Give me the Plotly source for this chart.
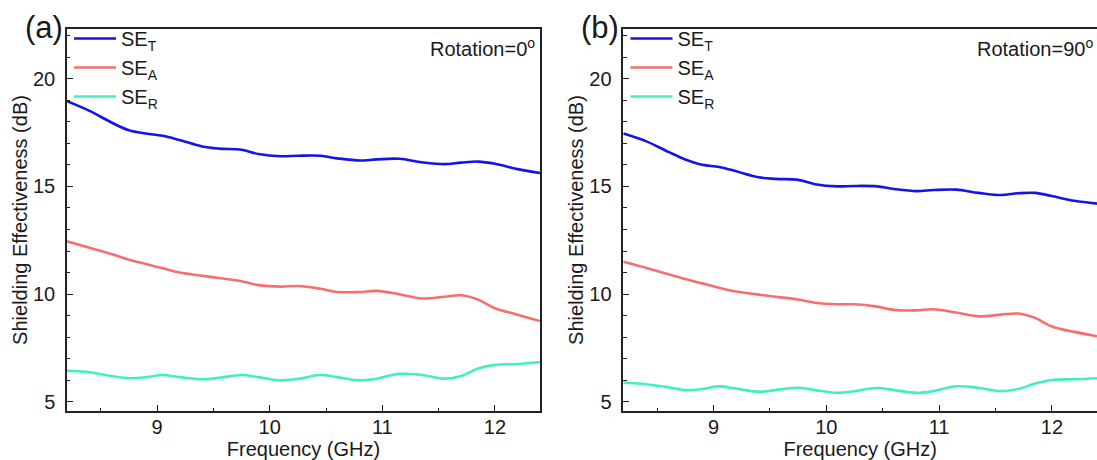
import plotly.graph_objects as go

# ---------------- data ----------------
freq = [8.2, 8.4, 8.6, 8.75, 8.9, 9.05, 9.2, 9.4, 9.55, 9.75, 9.9, 10.1, 10.25,
        10.45, 10.6, 10.8, 10.95, 11.15, 11.35, 11.55, 11.7, 11.85, 12.0, 12.2, 12.4]

# panel (a): Rotation = 0°
se_t_a = [18.95, 18.5, 17.95, 17.6, 17.45, 17.35, 17.15, 16.85, 16.75, 16.7, 16.5, 16.4, 16.42,
          16.42, 16.3, 16.2, 16.25, 16.28, 16.12, 16.03, 16.1, 16.15, 16.05, 15.8, 15.62]
se_a_a = [12.45, 12.15, 11.85, 11.6, 11.4, 11.2, 11.0, 10.85, 10.75, 10.6, 10.42, 10.35, 10.38,
          10.25, 10.1, 10.1, 10.15, 10.0, 9.8, 9.88, 9.95, 9.75, 9.35, 9.05, 8.75]
se_r_a = [6.45, 6.38, 6.2, 6.1, 6.15, 6.25, 6.15, 6.05, 6.12, 6.25, 6.15, 6.0, 6.07,
          6.25, 6.15, 6.0, 6.08, 6.3, 6.25, 6.08, 6.2, 6.55, 6.72, 6.76, 6.85]

# panel (b): Rotation = 90°
se_t_b = [17.45, 17.1, 16.6, 16.25, 16.0, 15.9, 15.7, 15.42, 15.35, 15.3, 15.1, 15.0, 15.02,
          15.0, 14.88, 14.78, 14.83, 14.85, 14.7, 14.6, 14.68, 14.7, 14.55, 14.33, 14.2]
se_a_b = [11.5, 11.22, 10.92, 10.7, 10.5, 10.3, 10.12, 9.98, 9.88, 9.75, 9.6, 9.53, 9.53,
          9.42, 9.27, 9.25, 9.3, 9.15, 8.97, 9.05, 9.1, 8.9, 8.5, 8.25, 8.05]
se_r_b = [5.9, 5.82, 5.68, 5.55, 5.6, 5.72, 5.62, 5.47, 5.55, 5.66, 5.55, 5.42, 5.5,
          5.65, 5.55, 5.42, 5.5, 5.72, 5.65, 5.5, 5.6, 5.85, 6.02, 6.05, 6.1]

series_names = ["SE<sub>T</sub>", "SE<sub>A</sub>", "SE<sub>R</sub>"]
series_colors = ["#1414E6", "#F76E6E", "#40F0C0"]
panel_labels = ["(a)", "(b)"]
rotation_labels = ["Rotation=0<sup>o</sup>", "Rotation=90<sup>o</sup>"]
x_title = "Frequency (GHz)"
y_title = "Shielding Effectiveness (dB)"

# ---------------- layout constants ----------------
FONT = "Liberation Sans, Arial, sans-serif"
TXT = "#1a1a1a"
W, H = 1097, 460
ML, MR, MT, MB = 67, 0, 29, 49
PW = W - ML - MR
PH = H - MT - MB

def px_x(px):
    return (px - ML) / PW

def px_y(py):
    return (H - MB - py) / PH

fig = go.Figure()

panels = [(se_t_a, se_a_a, se_r_a), (se_t_b, se_a_b, se_r_b)]
for p, data in enumerate(panels):
    xa = "x" if p == 0 else "x2"
    ya = "y" if p == 0 else "y2"
    leg = "legend" if p == 0 else "legend2"
    for name, color, vals in zip(series_names, series_colors, data):
        fig.add_trace(go.Scatter(
            x=freq, y=vals, mode="lines", name=name,
            line=dict(color=color, width=2.6, shape="spline", smoothing=1.0),
            xaxis=xa, yaxis=ya, legend=leg, hoverinfo="skip",
        ))

axis_common = dict(
    showline=True, linecolor="#222", linewidth=1.5, mirror=True,
    ticks="inside", ticklen=6, tickwidth=1.3, tickcolor="#222",
    showgrid=False, zeroline=False,
    tickfont=dict(family=FONT, size=20, color=TXT),
    title_font=dict(family=FONT, size=20, color=TXT),
)

xdoms = [[0, px_x(540)], [px_x(623.3), 1.0]]
for p in range(2):
    sfx = "" if p == 0 else "2"
    fig.update_layout(**{
        f"xaxis{sfx}": dict(axis_common, domain=xdoms[p], range=[8.2, 12.4],
                            dtick=1, tick0=9, anchor=f"y{sfx}",
                            minor=dict(dtick=0.5, tick0=8.5, ticks="inside", ticklen=3.5,
                                       tickwidth=1.3, tickcolor="#222"),
                            title=dict(text=x_title, standoff=4),
                            ticklabelstandoff=-3),
        f"yaxis{sfx}": dict(axis_common, domain=[0, 1], range=[4.58, 22.3],
                            dtick=5, tick0=5, anchor=f"x{sfx}",
                            minor=dict(dtick=1, ticks="inside", ticklen=3.5,
                                       tickwidth=1.3, tickcolor="#222"),
                            title=dict(text=y_title, standoff=0),
                            ticklabelstandoff=6),
    })

legend_common = dict(
    bgcolor="rgba(0,0,0,0)", borderwidth=0,
    font=dict(family=FONT, size=20, color=TXT),
    xanchor="left", yanchor="top", traceorder="normal",
    itemwidth=42,
)
fig.update_layout(
    legend=dict(legend_common, x=px_x(69), y=px_y(19)),
    legend2=dict(legend_common, x=px_x(625.5), y=px_y(19)),
)

annotations = []
for p in range(2):
    cx = 44 if p == 0 else 600
    annotations.append(dict(text=panel_labels[p], x=px_x(cx), y=px_y(28), xref="paper", yref="paper",
                            xanchor="center", yanchor="middle", showarrow=False,
                            font=dict(family=FONT, size=31, color=TXT)))
    rx = 537 if p == 0 else 1095
    annotations.append(dict(text=rotation_labels[p], x=px_x(rx), y=px_y(47), xref="paper", yref="paper",
                            xanchor="right", yanchor="middle", showarrow=False,
                            font=dict(family=FONT, size=20, color=TXT)))

fig.update_layout(
    width=W, height=H,
    margin=dict(l=ML, r=MR, t=MT, b=MB, autoexpand=False),
    paper_bgcolor="white", plot_bgcolor="white",
    showlegend=True,
    annotations=annotations,
)

fig.write_html("out.html")
